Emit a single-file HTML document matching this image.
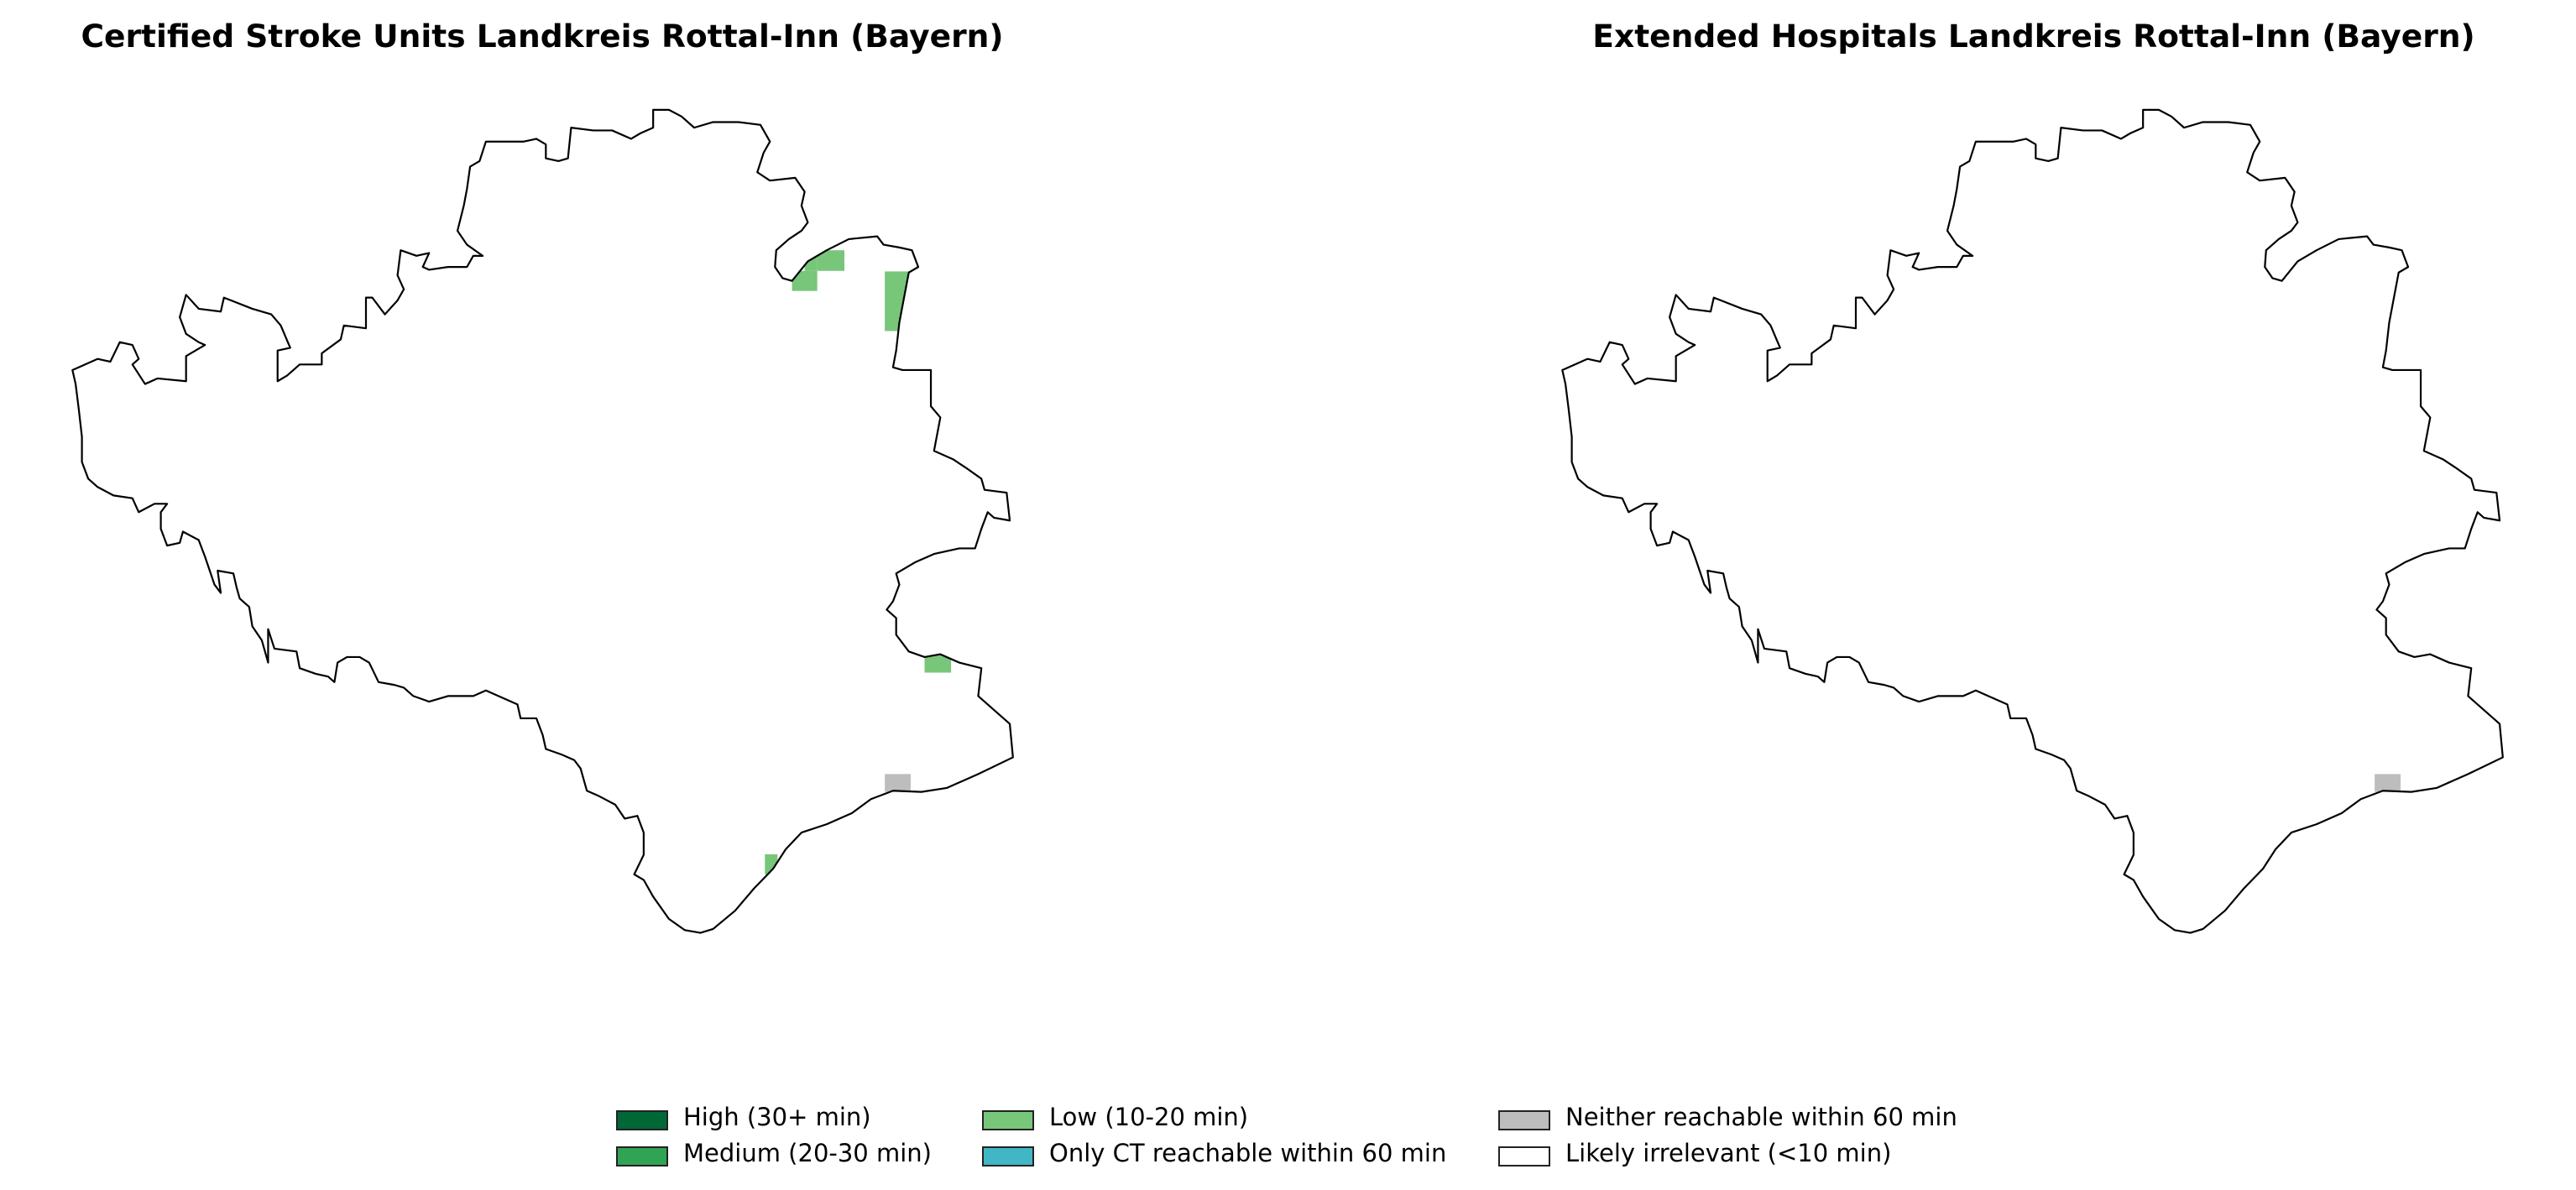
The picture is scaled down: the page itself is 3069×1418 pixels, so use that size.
<!DOCTYPE html>
<html><head><meta charset="utf-8"><style>
body{margin:0;background:#fff;width:3069px;height:1418px;overflow:hidden;font-family:"DejaVu Sans","Liberation Sans",sans-serif}
.t{position:absolute;top:21px;font-weight:bold;font-size:37.6px;transform:translateX(-50%);white-space:nowrap}
.lg{position:absolute;font-size:29px;white-space:nowrap}
.lg span.p{position:absolute;width:58px;height:20px;border:2px solid #222;left:0;top:2px}
.lg span.l{position:absolute;left:80px;top:-7px}
</style></head><body>
<div class="t" style="left:646px">Certified Stroke Units Landkreis Rottal-Inn (Bayern)</div>
<div class="t" style="left:2423px">Extended Hospitals Landkreis Rottal-Inn (Bayern)</div>
<svg id="svg" width="3069" height="1418" style="position:absolute;left:0;top:0"></svg>
<div id="legend"></div>
<script>
const outline=[35,515,75,495,95,500,110,465,130,470,140,495,130,505,150,540,170,530,215,535,215,490,245,470,235,465,215,450,205,420,215,380,235,405,270,410,275,385,320,405,350,415,365,435,380,475,360,480,360,535,375,525,395,505,410,505,430,505,430,485,460,460,465,435,500,440,500,385,510,385,530,415,550,390,560,370,550,345,555,300,580,310,600,305,590,330,600,335,630,330,660,330,670,310,685,310,660,290,645,265,655,220,660,190,665,150,680,140,690,105,750,105,770,100,785,110,785,135,805,140,820,135,825,80,860,85,890,85,920,100,935,90,955,80,955,48,980,48,1000,60,1020,80,1050,70,1090,70,1125,75,1140,105,1130,125,1120,160,1140,175,1180,170,1195,195,1190,220,1200,250,1190,265,1170,280,1150,300,1148,330,1160,350,1175,355,1200,320,1230,300,1265,280,1310,275,1320,290,1345,295,1365,300,1375,330,1360,340,1350,400,1345,430,1340,480,1335,510,1350,515,1395,515,1395,580,1410,600,1400,660,1430,675,1450,690,1475,710,1480,730,1515,735,1520,785,1495,780,1485,770,1475,800,1465,835,1440,835,1400,845,1370,860,1340,880,1345,900,1335,930,1325,945,1340,960,1340,990,1360,1020,1385,1030,1410,1025,1440,1040,1475,1050,1470,1100,1500,1130,1520,1150,1525,1210,1470,1240,1420,1265,1380,1272,1335,1270,1300,1285,1270,1310,1230,1330,1190,1345,1165,1375,1145,1410,1115,1445,1085,1485,1050,1518,1030,1525,1005,1520,980,1500,955,1460,940,1430,925,1420,940,1385,940,1345,930,1315,910,1320,895,1295,870,1280,850,1270,840,1230,830,1215,810,1205,785,1195,780,1170,770,1140,745,1140,740,1115,720,1105,690,1090,670,1100,655,1100,630,1100,600,1110,575,1100,560,1085,545,1080,520,1075,505,1040,490,1030,470,1030,455,1040,450,1075,440,1065,420,1060,395,1050,390,1020,355,1015,345,980,345,1040,335,1000,320,975,315,940,300,925,295,905,290,880,265,875,270,915,260,900,245,850,235,820,210,805,205,825,185,830,175,800,175,770,185,755,165,755,140,770,130,745,100,740,75,725,60,710,50,680,50,635,45,585,40,540];
const leftCells=[[1215,300,43,37,'low'],[1175,337,40,36,'low'],[1195,312,20,25,'low'],[1322,338,40,107,'low'],[1385,1020,42,38,'low'],[1132,1384,20,36,'low'],[1322,1240,41,32,'none']];
const rightCells=[[1322,1240,41,32,'none']];
const colors={high:'#006837',medium:'#31a354',low:'#78c679',ct:'#41b6c4',none:'#bdbdbd',irr:'#ffffff'};
const ns='http://www.w3.org/2000/svg',svg=document.getElementById('svg');
let pts='';for(let i=0;i<outline.length;i+=2)pts+=outline[i]+','+outline[i+1]+' ';
const defs=document.createElementNS(ns,'defs');const cp=document.createElementNS(ns,'clipPath');cp.setAttribute('id','cl');
const cpp=document.createElementNS(ns,'polygon');cpp.setAttribute('points',pts);cp.appendChild(cpp);defs.appendChild(cp);svg.appendChild(defs);
function map(dx,cells,name){
 const g=document.createElementNS(ns,'g');
 
 
 g.setAttribute('transform','translate('+(60+dx)+',99) scale(0.752,0.664)');
 const cg=document.createElementNS(ns,'g');cg.setAttribute('clip-path','url(#cl)');
 cells.forEach(c=>{const r=document.createElementNS(ns,'rect');
  
  
  r.setAttribute('x',c[0]);r.setAttribute('y',c[1]);r.setAttribute('width',c[2]);r.setAttribute('height',c[3]);r.setAttribute('fill',colors[c[4]]);cg.appendChild(r);});
 g.appendChild(cg);
 const p=document.createElementNS(ns,'polygon');
 
 
 p.setAttribute('points',pts);p.setAttribute('fill','none');p.setAttribute('stroke','#000');p.setAttribute('stroke-width','2.2');p.setAttribute('vector-effect','non-scaling-stroke');p.setAttribute('stroke-linejoin','round');
 g.appendChild(p);svg.appendChild(g);
}
map(0,leftCells,'left-map');map(1775,rightCells,'right-map');
const legendLabels=['High (30+ min)','Medium (20-30 min)','Low (10-20 min)','Only CT reachable within 60 min','Neither reachable within 60 min','Likely irrelevant (<10 min)'];
const legendKeys=['high','medium','low','ct','none','irr'];
const lx=[734,734,1170,1170,1785,1785],ly=[1321,1364,1321,1364,1321,1364];
const L=document.getElementById('legend');
legendLabels.forEach((t,i)=>{const d=document.createElement('div');d.className='lg';
 
 
 d.style.left=lx[i]+'px';d.style.top=ly[i]+'px';
 d.innerHTML='<span class="p" style="background:'+colors[legendKeys[i]]+'"></span><span class="l"></span>';
 d.querySelector('.l').textContent=t;L.appendChild(d);});
</script>
</body></html>
